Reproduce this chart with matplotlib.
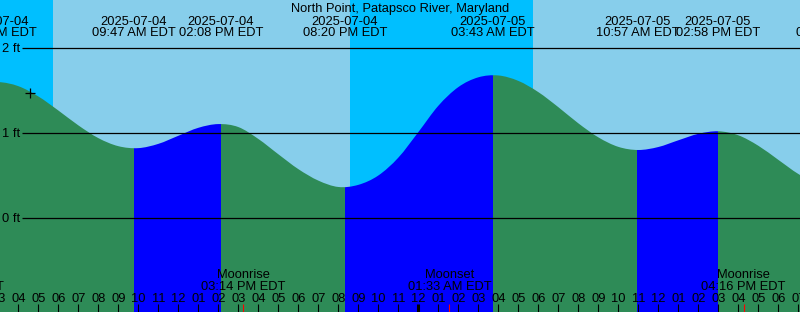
import matplotlib
matplotlib.use("Agg")
from matplotlib import pyplot as plt
from matplotlib.path import Path
from matplotlib.patches import PathPatch
import numpy as np

plt.rcParams.update({"font.family": ["Liberation Sans", "DejaVu Sans"], "font.size": 9.3})

title = "North Point, Patapsco River, Maryland"

# water level, hours after 2025-07-04 00:00 EDT (ft)
level_hours = list(range(2, 46))
level_ft = [
    1.570,
    1.599, 1.551, 1.430, 1.265, 1.090, 0.940, 0.845, 0.822, 0.872, 0.967,
    1.061, 1.105, 1.070, 0.930, 0.750, 0.575, 0.440, 0.365, 0.390, 0.500,
    0.710, 1.010, 1.320, 1.540, 1.655, 1.677, 1.613, 1.481, 1.304, 1.114,
    0.949, 0.837, 0.800, 0.835, 0.914, 0.990, 1.020, 0.973, 0.850, 0.684,
    0.518, 0.396, 0.352,
]

# high and low tides
ext_hours = [2.85, 9.783, 14.133, 20.333, 27.717, 34.95, 38.967, 45.0]
ext_ft = [1.60, 0.82, 1.106, 0.36, 1.68, 0.80, 1.02, 0.35]
ext_dates = ["2025-07-04"] * 4 + ["2025-07-05"] * 4
ext_times = [
    "02:51 AM EDT", "09:47 AM EDT", "02:08 PM EDT", "08:20 PM EDT",
    "03:43 AM EDT", "10:57 AM EDT", "02:58 PM EDT", "08:56 PM EDT",
]

# night (sunset -> sunrise)
night_start = [0.0, 20.583]
night_end = [5.733, 29.733]

# moon events
moon_hours = [1.167, 15.233, 25.55, 40.267]
moon_names = ["Moonset", "Moonrise", "Moonset", "Moonrise"]
moon_times = ["01:10 AM EDT", "03:14 PM EDT", "01:33 AM EDT", "04:16 PM EDT"]

grid_ft = [0, 1, 2]
now_hour, now_ft = 4.583, 1.47

# =============================================================================
# layout helpers (pixel -> data)
# =============================================================================
x0 = 3.0835
x1 = x0 + 40.0


def ypx(p):
    return (218.0 - p) / 85.0


def xpx(p):
    return x0 + p / 20.0


fig = plt.figure(figsize=(8.0, 3.12), dpi=100)
ax = fig.add_axes([0, 0, 1, 1])
ax.set_xlim(x0, x1)
ax.set_ylim(ypx(312), ypx(0))
ax.axis("off")

bottom = ypx(330)

# sky
ax.axvspan(x0 - 1, x1 + 1, color="#87CEEB", lw=0, zorder=0)
for s, e in zip(night_start, night_end):
    ax.axvspan(s, e, color="#00BFFF", lw=0, zorder=1)

# water outline: smooth curve through the readings
pts = np.column_stack([level_hours, level_ft]).astype(float)
verts = [(pts[0, 0], bottom), tuple(pts[0])]
codes = [Path.MOVETO, Path.LINETO]
n = len(pts)
for i in range(n - 1):
    p0 = pts[max(i - 1, 0)]
    p1, p2 = pts[i], pts[i + 1]
    p3 = pts[min(i + 2, n - 1)]
    c1 = p1 + (p2 - p0) / 6.0
    c2 = p2 - (p3 - p1) / 6.0
    verts += [tuple(c1), tuple(c2), tuple(p2)]
    codes += [Path.CURVE4] * 3
verts += [(pts[-1, 0], bottom), (pts[0, 0], bottom)]
codes += [Path.LINETO, Path.CLOSEPOLY]
water = PathPatch(Path(verts, codes), facecolor="none", edgecolor="none", zorder=2)
ax.add_patch(water)

# rising = blue, falling = green
bounds = [level_hours[0]] + ext_hours + [level_hours[-1] + 1]
for i in range(len(bounds) - 1):
    if i == 0:
        rising = True
    elif i == len(bounds) - 2:
        rising = True
    else:
        rising = ext_ft[i] > ext_ft[i - 1]
    col = "#0000FF" if rising else "#2E8B57"
    band = ax.axvspan(bounds[i], bounds[i + 1], color=col, lw=0, zorder=2)
    band.set_clip_path(water)

# depth lines and labels
ax.hlines(grid_ft, xpx(22), x1 + 1, color="black", lw=0.9, zorder=3)
for g in grid_ft:
    ax.text(xpx(2), g - 4.0 / 85, f"{g} ft", ha="left", va="baseline", zorder=4)

# current time mark
ax.plot(now_hour, now_ft, marker="+", color="black", ms=6.5, mew=0.9, zorder=4)

# title and tide labels
ax.text((x0 + x1) / 2, ypx(11.7), title, ha="center", va="baseline", zorder=4)
for eh, d, tm in zip(ext_hours, ext_dates, ext_times):
    ax.text(eh, ypx(25), d, ha="center", va="baseline", zorder=4)
    ax.text(eh, ypx(36.5), tm, ha="center", va="baseline", zorder=4)

# moon labels
for mh, nm, tm in zip(moon_hours, moon_names, moon_times):
    ax.text(mh, ypx(278.3), nm, ha="center", va="baseline", zorder=4)
    ax.text(mh, ypx(290), tm, ha="center", va="baseline", zorder=4)

# hour ticks
for hr in range(3, 44):
    lab = f"{(hr - 1) % 12 + 1:02d}"
    ax.text(hr, ypx(302), lab, ha="center", va="baseline", zorder=4)
    lw = 2.2 if hr % 24 == 0 else 0.8
    ax.vlines(hr, ypx(312), ypx(304), color="black", lw=lw, zorder=4)
ax.vlines(moon_hours, ypx(312), ypx(304), color="red", lw=0.8, zorder=4)

fig.savefig("out.png", dpi=100)
